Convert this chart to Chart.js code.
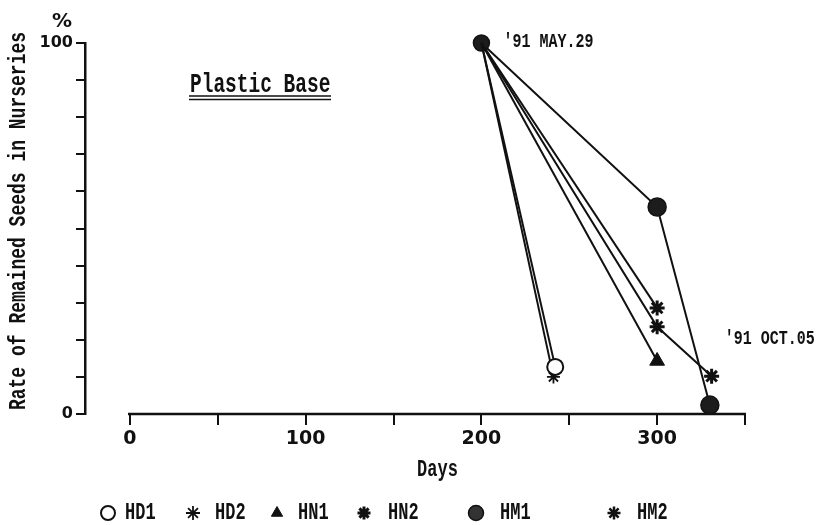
<!DOCTYPE html>
<html>
<head>
<meta charset="utf-8">
<script src="https://cdn.jsdelivr.net/npm/chart.js@4.4.1/dist/chart.umd.min.js"></script>
<style>
  html, body { margin: 0; padding: 0; background: #fff; }
</style>
</head>
<body>
<canvas id="seedChart" width="816" height="525"></canvas>
<script>
// series: days after sowing vs rate of remained seeds (%)
const seriesNames = ["HD1", "HD2", "HN1", "HN2", "HM1", "HM2"];
const hd1Days = [200, 242], hd1Rate = [100, 12.7];
const hd2Days = [200, 241], hd2Rate = [100, 10];
const hn1Days = [200, 300], hn1Rate = [100, 14.3];
const hn2Days = [200, 300], hn2Rate = [100, 28.6];
const hm1Days = [200, 300, 330], hm1Rate = [100, 55.8, 2.4];
const hm2Days = [200, 300, 331], hm2Rate = [100, 23.5, 10.2];

const xTickValues = [0, 50, 100, 150, 200, 250, 300, 350];
const xTickLabels = ["0", "", "100", "", "200", "", "300", ""];
const yTickLabels = ["0", "", "", "", "", "", "", "", "", "", "100"];

function pts(days, rate) {
    return days.map((d, i) => ({ x: d, y: rate[i] }));
}

const MONO = "'Liberation Mono', 'DejaVu Sans Mono', monospace";
const SANS = "'DejaVu Sans', 'Liberation Sans', sans-serif";

function drawText(ctx, text, x, y, font, opts) {
    opts = opts || {};
    ctx.save();
    ctx.translate(x, y);
    if (opts.rotate) ctx.rotate(opts.rotate);
    ctx.scale(1, opts.sy || 1);
    ctx.font = font;
    ctx.fillStyle = "#111";
    ctx.textAlign = opts.align || "left";
    ctx.textBaseline = "middle";
    ctx.fillText(text, 0, 0);
    ctx.restore();
}

const base = { borderColor: "#111", borderWidth: 2, pointBorderColor: "#111", clip: false, tension: 0 };

const datasets = [
    Object.assign({}, base, { label: seriesNames[0], data: pts(hd1Days, hd1Rate),
        pointStyle: "circle", pointRadius: [0, 8], pointBackgroundColor: "#fff", pointBorderWidth: 2 }),
    Object.assign({}, base, { label: seriesNames[1], data: pts(hd2Days, hd2Rate),
        pointStyle: "star", pointRadius: [0, 6.5], pointBorderWidth: 1.8 }),
    Object.assign({}, base, { label: seriesNames[2], data: pts(hn1Days, hn1Rate),
        pointStyle: "triangle", pointRadius: [0, 8.5], pointBackgroundColor: "#111", pointBorderWidth: 1 }),
    Object.assign({}, base, { label: seriesNames[3], data: pts(hn2Days, hn2Rate),
        pointStyle: "star", pointRadius: [0, 7.5], pointBorderWidth: 3 }),
    Object.assign({}, base, { label: seriesNames[4], data: pts(hm1Days, hm1Rate),
        pointStyle: "circle", pointRadius: [8, 9, 9], pointBackgroundColor: "#1c1c1c", pointBorderWidth: 1.5 }),
    Object.assign({}, base, { label: seriesNames[5], data: pts(hm2Days, hm2Rate),
        pointStyle: "star", pointRadius: [0, 7.5, 7.5], pointBorderWidth: 3 })
];

// legend entries, drawn with Chart.js's own point renderer
const legendMarks = [
    { style: "circle", r: 7, fill: "#fff", bw: 2 },
    { style: "star", r: 7, fill: "#111", bw: 1.8 },
    { style: "triangle", r: 6.5, fill: "#111", bw: 1 },
    { style: "star", r: 6.5, fill: "#111", bw: 3 },
    { style: "circle", r: 7.5, fill: "#333", bw: 1.5 },
    { style: "star", r: 6.5, fill: "#111", bw: 2.5 }
];
const legendMarkX = [108, 193, 277, 364, 476, 614];
const legendTextX = [125, 215, 298, 388, 500, 637];

const decorPlugin = {
    id: "decor",
    afterDraw(chart) {
        const ctx = chart.ctx;
        const xs = chart.scales.x, ys = chart.scales.y;
        const bottom = chart.chartArea.bottom;

        // x axis line only spans 0..350 days
        ctx.save();
        ctx.strokeStyle = "#111";
        ctx.lineWidth = 2.5;
        ctx.beginPath();
        ctx.moveTo(xs.getPixelForValue(0) - 2, bottom);
        ctx.lineTo(xs.getPixelForValue(350) + 1, bottom);
        ctx.stroke();
        ctx.restore();

        drawText(ctx, "%", 62, 22, "bold 20px " + SANS, { align: "center" });
        drawText(ctx, "Rate of Remained Seeds in Nurseries", 19, 221, "bold 18px " + MONO,
            { rotate: -Math.PI / 2, align: "center", sy: 1.35 });

        drawText(ctx, "Plastic Base", 190, 85, "bold 19.5px " + MONO, { sy: 1.4 });
        ctx.save();
        ctx.strokeStyle = "#111";
        ctx.lineWidth = 1.5;
        ctx.beginPath();
        ctx.moveTo(189, 96); ctx.lineTo(331, 96);
        ctx.moveTo(189, 99.5); ctx.lineTo(331, 99.5);
        ctx.stroke();
        ctx.restore();

        drawText(ctx, "'91 MAY.29", xs.getPixelForValue(200) + 22, ys.getPixelForValue(100) - 1,
            "bold 15px " + MONO, { sy: 1.4 });
        drawText(ctx, "'91 OCT.05", xs.getPixelForValue(330) + 15, ys.getPixelForValue(20.3),
            "bold 15px " + MONO, { sy: 1.4 });

        drawText(ctx, "Days", (xs.getPixelForValue(0) + xs.getPixelForValue(350)) / 2, 470,
            "bold 17px " + MONO, { align: "center", sy: 1.4 });

        legendMarks.forEach((m, i) => {
            ctx.save();
            ctx.fillStyle = m.fill;
            ctx.strokeStyle = "#111";
            ctx.lineWidth = m.bw;
            Chart.helpers.drawPoint(ctx, { pointStyle: m.style, radius: m.r, rotation: 0, borderWidth: m.bw },
                legendMarkX[i], 513);
            ctx.restore();
            drawText(ctx, seriesNames[i], legendTextX[i], 513, "bold 17px " + MONO, { sy: 1.4 });
        });
    }
};

new Chart(document.getElementById("seedChart"), {
    type: "line",
    data: { datasets: datasets },
    options: {
        responsive: false,
        animation: false,
        layout: { padding: { top: 43, right: 71, bottom: 0, left: 0 } },
        plugins: { legend: { display: false }, tooltip: { enabled: false } },
        scales: {
            x: {
                type: "linear",
                min: -25.6,
                max: 350,
                afterBuildTicks(scale) {
                    scale.ticks = xTickValues.map(v => ({ value: v }));
                },
                afterFit(scale) { scale.height = 111; },
                border: { display: false },
                grid: { drawOnChartArea: false, drawTicks: true, tickLength: 11, color: "#111", lineWidth: 2 },
                ticks: {
                    autoSkip: false, maxRotation: 0, padding: 3, color: "#111",
                    font: { family: SANS, size: 19, weight: "bold" },
                    callback: (v, i) => xTickLabels[i]
                }
            },
            y: {
                min: 0,
                max: 100,
                afterFit(scale) { scale.width = 85; },
                border: { display: true, color: "#111", width: 2.5 },
                grid: { drawOnChartArea: false, drawTicks: true, tickLength: 9, color: "#111", lineWidth: 2 },
                ticks: {
                    stepSize: 10, padding: 3, color: "#111",
                    font: { family: SANS, size: 16, weight: "bold" },
                    callback: (v, i) => yTickLabels[i]
                }
            }
        }
    },
    plugins: [decorPlugin]
});
</script>
</body>
</html>
